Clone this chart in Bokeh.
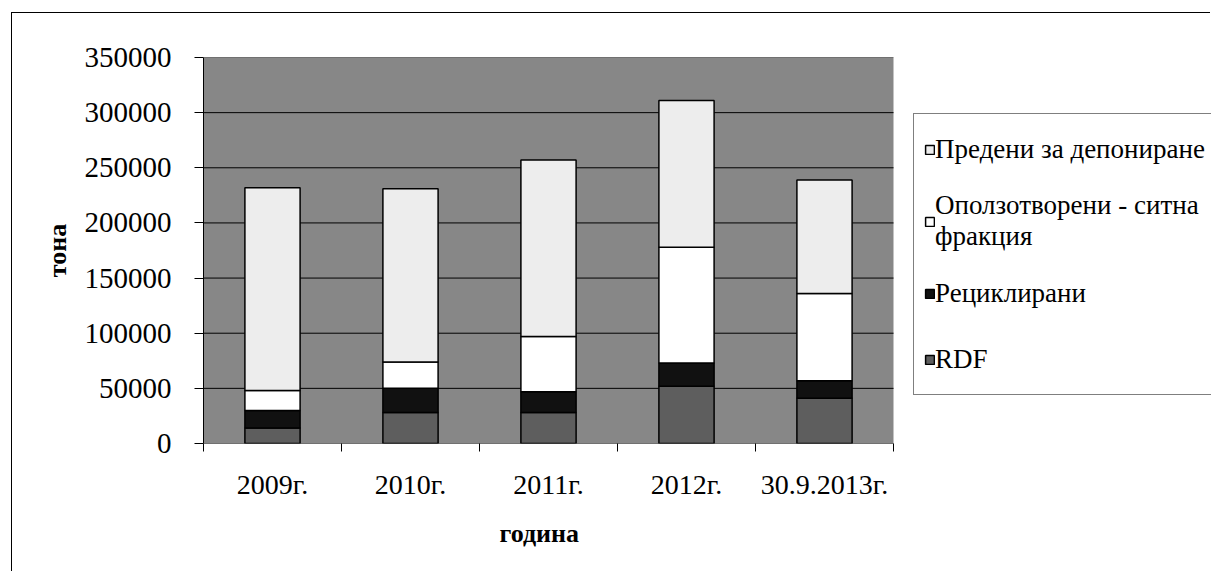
from bokeh.plotting import figure
from bokeh.models import ColumnDataSource, FixedTicker, Legend, LegendItem, Title
from bokeh.embed import file_html
from bokeh.resources import INLINE

categories = ["2009г.", "2010г.", "2011г.", "2012г.", "30.9.2013г."]
rdf = [14000, 28000, 28000, 52000, 41000]
recycled = [16000, 22000, 19000, 21000, 16000]
recovered = [18000, 24000, 50000, 105000, 79000]
landfill = [184000, 157000, 160000, 133000, 103000]
series_keys = ["rdf", "recycled", "recovered", "landfill"]
series_names = ["RDF", "Рециклирани", "Оползотворени - ситна\nфракция", "Предени за депониране"]
series_colors = ["#5e5e5e", "#111111", "#ffffff", "#ededed"]
y_ticks = list(range(0, 350001, 50000))
y_max = 350000
x_title = "година"
y_title = "тона"

FONT = "Liberation Serif"
n = len(categories)

W, H = 1199, 559
LEFT = 191
# frame spans plot area (690 px for the categories) plus legend area to the right
plot_px = 690
frame_px = W - LEFT
x_end = n * frame_px / plot_px

xs = [i + 0.5 for i in range(n)]
source = ColumnDataSource(dict(x=xs, rdf=rdf, recycled=recycled, recovered=recovered, landfill=landfill))

p = figure(width=W, height=H, output_backend="svg", toolbar_location=None,
           x_range=(0, x_end), y_range=(0, y_max),
           min_border_left=LEFT, min_border_right=0, min_border_top=44, min_border_bottom=129)
p.background_fill_color = "white"
p.border_fill_color = "white"
p.outline_line_color = None
p.styles = {"margin-left": "11px", "margin-top": "12px",
            "border-left": "1px solid black", "border-top": "1px solid black"}

# plot-area background
p.quad(left=[0], right=[n], bottom=[0], top=[y_max], fill_color="#878787", line_color=None)
# horizontal gridlines limited to plot area
p.segment(x0=[0] * len(y_ticks), x1=[n] * len(y_ticks), y0=y_ticks, y1=y_ticks,
          line_color="black", line_width=1)

renderers = p.vbar_stack(series_keys, x="x", width=0.4, source=source,
                         fill_color=series_colors, line_color="black", line_width=1.5)

# axes
p.xaxis.ticker = FixedTicker(ticks=xs, minor_ticks=list(range(n + 1)))
p.xaxis.major_label_overrides = {x: c for x, c in zip(xs, categories)}
p.xaxis.major_tick_out = 0
p.xaxis.major_tick_in = 0
p.xaxis.minor_tick_out = 8
p.xaxis.minor_tick_in = 0
p.xaxis.minor_tick_line_color = "black"
p.xaxis.major_label_standoff = 17
p.xaxis.major_label_text_font = FONT
p.xaxis.major_label_text_font_size = "28px"
p.xaxis.major_label_text_color = "black"
p.xaxis.axis_line_color = None

title = Title(text=x_title, align="left", offset=296, standoff=28,
              text_font=FONT, text_font_size="26px", text_font_style="bold", text_color="black")
p.add_layout(title, "below")

p.yaxis.ticker = FixedTicker(ticks=y_ticks)
p.yaxis.formatter.use_scientific = False
p.yaxis.minor_tick_line_color = None
p.yaxis.major_tick_out = 9
p.yaxis.major_tick_in = 0
p.yaxis.major_label_standoff = 23
p.yaxis.major_label_text_font = FONT
p.yaxis.major_label_text_font_size = "29px"
p.yaxis.major_label_text_color = "black"
p.yaxis.axis_line_color = "black"
p.yaxis.axis_label = y_title
p.yaxis.axis_label_text_font = FONT
p.yaxis.axis_label_text_font_style = "bold"
p.yaxis.axis_label_text_font_size = "26px"
p.yaxis.axis_label_standoff = 10
p.yaxis.axis_label_text_color = "black"

p.xgrid.grid_line_color = None
p.ygrid.grid_line_color = None

items = [LegendItem(label=s, renderers=[r]) for s, r in zip(series_names, renderers)][::-1]
legend = Legend(items=items, location=(710, 48), orientation="vertical",
                label_text_font=FONT, label_text_font_size="27px", label_text_color="black",
                glyph_width=11, glyph_height=11, label_standoff=0, label_height=50,
                padding=10, spacing=16, margin=0,
                border_line_color="black", border_line_width=1,
                background_fill_color="white", background_fill_alpha=1)
p.add_layout(legend, "center")

open("out.html", "w").write(file_html(p, INLINE))
